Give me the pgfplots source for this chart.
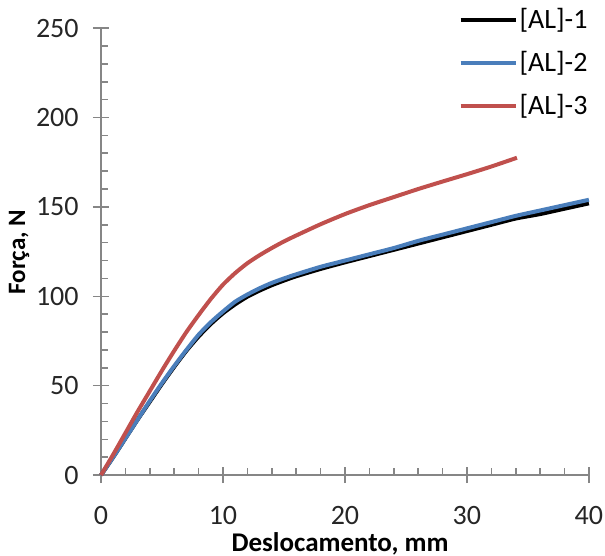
\documentclass[border=0pt]{standalone}
\usepackage{fontspec}
\setmainfont{Carlito}
\usepackage{pgfplots}
\pgfplotsset{compat=1.18}
\definecolor{alblue}{RGB}{74,126,187}
\definecolor{alred}{RGB}{192,80,77}
\definecolor{axgray}{RGB}{134,134,134}

\pgfplotstableread{
x y
0 0
1 10
2 20.5
3 31
4 41
5 51
6 60.5
7 69.5
8 77.5
9 84.5
10 90.5
11 95.5
12 99.8
13 103.2
14 106.2
15 108.8
16 111.2
18 115.3
20 119
22 122.5
24 126
26 129.5
28 133
30 136.5
32 140
34 143.5
36 146
38 149
40 152
}\alone

\pgfplotstableread{
x y
0 0
1 10
2 20.5
3 31
4 41.5
5 51.5
6 61
7 70
8 78.5
9 85.5
10 91.5
11 97
12 101
13 104.5
14 107.5
15 110
16 112.3
18 116.5
20 120
22 123.5
24 127
26 131
28 134.5
30 138
32 141.5
34 145
36 148
38 151
40 154
}\altwo

\pgfplotstableread{
x y
0 0
1 11.5
2 23.5
3 35.5
4 47
5 58.5
6 69.5
7 80
8 89.5
9 98.5
10 106.5
11 113
12 118.5
13 123
14 127
15 130.7
16 134
18 140.3
20 146
22 151
24 155.5
26 160
28 164.2
30 168.3
32 172.6
34.1 177.5
}\althree

\begin{document}
\begin{tikzpicture}
\begin{axis}[
    scale only axis,
    width=244pt, height=223.5pt,
    xmin=0, xmax=40, ymin=0, ymax=250,
    axis lines=left,
    axis line style={axgray, line width=0.8pt, -},
    xtick={0,10,...,40}, ytick={0,50,...,250},
    minor x tick num=4, minor y tick num=4,
    tick align=center,
    major tick length=8pt,
    minor tick length=3.5pt,
    every tick/.style={axgray, line width=0.8pt},
    minor y tick style={xshift=1.75pt},
    minor x tick style={yshift=1.75pt},
    ticklabel style={font=\fontsize{14}{16}\selectfont, text=black!85, inner sep=0pt},
    xticklabel style={yshift=-11.5pt},
    yticklabel style={xshift=-7pt},
    /pgf/number format/assume math mode=true,
    xlabel={\textbf{Deslocamento, mm}},
    ylabel={\textbf{Força, N}},
    label style={inner sep=0pt},
    xlabel style={font=\fontsize{13.5}{15}\selectfont, at={(rel axis cs:0.49,-0.153)}, anchor=center},
    ylabel style={font=\fontsize{12.5}{14}\selectfont, at={(rel axis cs:-0.168,0.499)}, anchor=center, rotate=0},
    legend style={draw=none, fill=none, at={(rel axis cs:1.002,1.05)}, anchor=north east,
        inner sep=0pt, nodes={inner sep=1pt},
        font=\fontsize{14}{16}\selectfont, row sep=8pt},
    legend image code/.code={\draw[#1] (0pt,0pt) -- (27.5pt,0pt);},
    legend cell align=left,
    clip=false,
]
\addplot[black, line width=2pt, smooth, tension=0.4] table {\alone};
\addlegendentry{\relax[AL]-1}
\addplot[alblue, line width=2pt, smooth, tension=0.4] table {\altwo};
\addlegendentry{\relax[AL]-2}
\addplot[alred, line width=2pt, smooth, tension=0.4] table {\althree};
\addlegendentry{\relax[AL]-3}
\path (rel axis cs:-0.207,-0.179) rectangle (rel axis cs:1.033,1.063);
\end{axis}
\end{tikzpicture}
\end{document}
